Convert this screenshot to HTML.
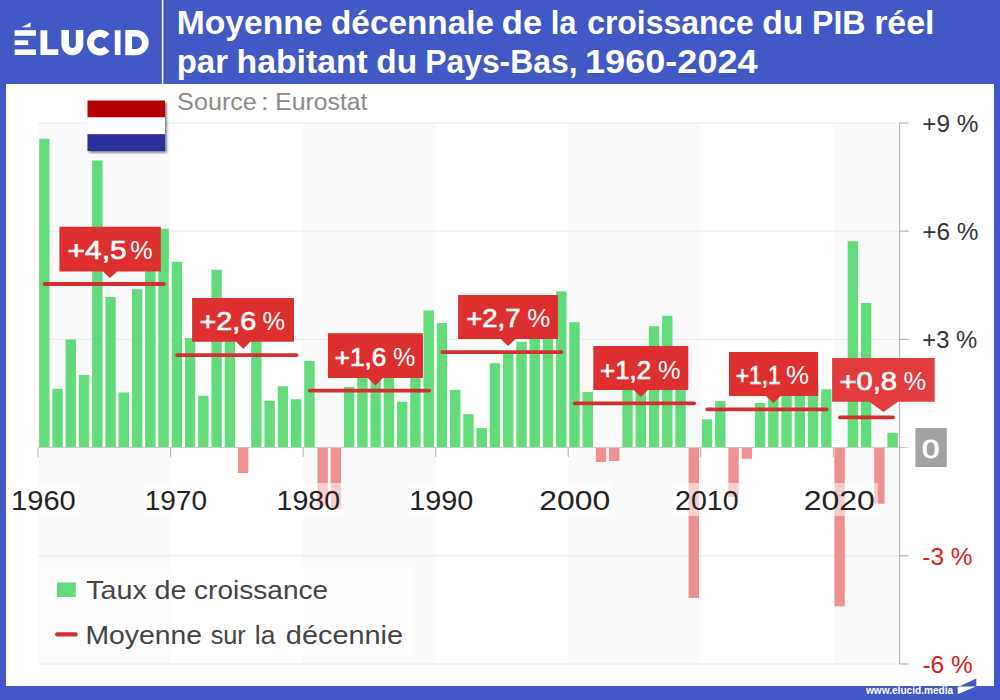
<!DOCTYPE html>
<html><head><meta charset="utf-8"><title>Chart</title>
<style>html,body{margin:0;padding:0;width:1000px;height:700px;overflow:hidden;background:#4059c5;font-family:"Liberation Sans",sans-serif}</style></head>
<body>
<svg width="1000" height="700" viewBox="0 0 1000 700" style="position:absolute;left:0;top:0;font-family:'Liberation Sans',sans-serif">
<defs><filter id="sh" x="-20%" y="-20%" width="150%" height="150%"><feDropShadow dx="1.8" dy="1.8" stdDeviation="1.3" flood-color="#000" flood-opacity="0.5"/></filter></defs>
<rect width="1000" height="700" fill="#4059c5"/>
<rect x="6" y="84" width="988" height="602" fill="#fff"/>
<rect x="161.8" y="0" width="1.6" height="84" fill="#fff" opacity="0.95"/>
<rect x="38.00" y="122.9" width="132.55" height="541.1" fill="#fafafa"/>
<rect x="303.10" y="122.9" width="132.55" height="541.1" fill="#fafafa"/>
<rect x="568.20" y="122.9" width="132.55" height="541.1" fill="#fafafa"/>
<rect x="833.30" y="122.9" width="66.27" height="541.1" fill="#fafafa"/>
<rect x="38.0" y="122.42" width="870.58" height="1" fill="#e9e9e9"/>
<rect x="38.0" y="230.63" width="870.58" height="1" fill="#e9e9e9"/>
<rect x="38.0" y="338.84" width="870.58" height="1" fill="#e9e9e9"/>
<rect x="38.0" y="555.26" width="870.58" height="1" fill="#e9e9e9"/>
<rect x="38.0" y="663.47" width="870.58" height="1" fill="#e9e9e9"/>
<rect x="40" y="567" width="374.5" height="90" fill="#fff" opacity="0.55"/>
<rect x="39.10" y="138.75" width="10.4" height="308.80" fill="#62dc7b"/>
<rect x="52.36" y="388.75" width="10.4" height="58.80" fill="#62dc7b"/>
<rect x="65.61" y="339.50" width="10.4" height="108.05" fill="#62dc7b"/>
<rect x="78.86" y="375.00" width="10.4" height="72.55" fill="#62dc7b"/>
<rect x="92.12" y="160.50" width="10.4" height="287.05" fill="#62dc7b"/>
<rect x="105.38" y="297.00" width="10.4" height="150.55" fill="#62dc7b"/>
<rect x="118.63" y="392.50" width="10.4" height="55.05" fill="#62dc7b"/>
<rect x="131.89" y="289.25" width="10.4" height="158.30" fill="#62dc7b"/>
<rect x="145.14" y="256.00" width="10.4" height="191.55" fill="#62dc7b"/>
<rect x="158.40" y="228.75" width="10.4" height="218.80" fill="#62dc7b"/>
<rect x="171.65" y="261.75" width="10.4" height="185.80" fill="#62dc7b"/>
<rect x="184.91" y="338.00" width="10.4" height="109.55" fill="#62dc7b"/>
<rect x="198.16" y="395.75" width="10.4" height="51.80" fill="#62dc7b"/>
<rect x="211.41" y="269.75" width="10.4" height="177.80" fill="#62dc7b"/>
<rect x="224.67" y="332.00" width="10.4" height="115.55" fill="#62dc7b"/>
<rect x="237.93" y="447.55" width="10.4" height="25.45" fill="#ee9090"/>
<rect x="251.18" y="339.00" width="10.4" height="108.55" fill="#62dc7b"/>
<rect x="264.44" y="400.75" width="10.4" height="46.80" fill="#62dc7b"/>
<rect x="277.69" y="386.25" width="10.4" height="61.30" fill="#62dc7b"/>
<rect x="290.95" y="399.25" width="10.4" height="48.30" fill="#62dc7b"/>
<rect x="304.20" y="361.00" width="10.4" height="86.55" fill="#62dc7b"/>
<rect x="317.46" y="447.55" width="10.4" height="58.45" fill="#ee9090"/>
<rect x="330.71" y="447.55" width="10.4" height="61.05" fill="#ee9090"/>
<rect x="343.97" y="386.80" width="10.4" height="60.75" fill="#62dc7b"/>
<rect x="357.22" y="350.00" width="10.4" height="97.55" fill="#62dc7b"/>
<rect x="370.48" y="372.00" width="10.4" height="75.55" fill="#62dc7b"/>
<rect x="383.73" y="368.00" width="10.4" height="79.55" fill="#62dc7b"/>
<rect x="396.99" y="401.80" width="10.4" height="45.75" fill="#62dc7b"/>
<rect x="410.24" y="347.00" width="10.4" height="100.55" fill="#62dc7b"/>
<rect x="423.50" y="310.50" width="10.4" height="137.05" fill="#62dc7b"/>
<rect x="436.75" y="323.00" width="10.4" height="124.55" fill="#62dc7b"/>
<rect x="450.01" y="389.80" width="10.4" height="57.75" fill="#62dc7b"/>
<rect x="463.26" y="414.25" width="10.4" height="33.30" fill="#62dc7b"/>
<rect x="476.52" y="428.10" width="10.4" height="19.45" fill="#62dc7b"/>
<rect x="489.77" y="363.25" width="10.4" height="84.30" fill="#62dc7b"/>
<rect x="503.03" y="353.50" width="10.4" height="94.05" fill="#62dc7b"/>
<rect x="516.28" y="341.75" width="10.4" height="105.80" fill="#62dc7b"/>
<rect x="529.53" y="311.00" width="10.4" height="136.55" fill="#62dc7b"/>
<rect x="542.79" y="303.00" width="10.4" height="144.55" fill="#62dc7b"/>
<rect x="556.05" y="291.30" width="10.4" height="156.25" fill="#62dc7b"/>
<rect x="569.30" y="322.20" width="10.4" height="125.35" fill="#62dc7b"/>
<rect x="582.56" y="392.00" width="10.4" height="55.55" fill="#62dc7b"/>
<rect x="595.81" y="447.55" width="10.4" height="14.45" fill="#ee9090"/>
<rect x="609.07" y="447.55" width="10.4" height="13.45" fill="#ee9090"/>
<rect x="622.32" y="388.50" width="10.4" height="59.05" fill="#62dc7b"/>
<rect x="635.58" y="382.00" width="10.4" height="65.55" fill="#62dc7b"/>
<rect x="648.83" y="326.25" width="10.4" height="121.30" fill="#62dc7b"/>
<rect x="662.09" y="315.75" width="10.4" height="131.80" fill="#62dc7b"/>
<rect x="675.34" y="382.00" width="10.4" height="65.55" fill="#62dc7b"/>
<rect x="688.60" y="447.55" width="10.4" height="150.45" fill="#ee9090"/>
<rect x="701.85" y="419.40" width="10.4" height="28.15" fill="#62dc7b"/>
<rect x="715.11" y="401.00" width="10.4" height="46.55" fill="#62dc7b"/>
<rect x="728.36" y="447.55" width="10.4" height="49.45" fill="#ee9090"/>
<rect x="741.62" y="447.55" width="10.4" height="11.20" fill="#ee9090"/>
<rect x="754.87" y="403.00" width="10.4" height="44.55" fill="#62dc7b"/>
<rect x="768.13" y="390.00" width="10.4" height="57.55" fill="#62dc7b"/>
<rect x="781.38" y="386.00" width="10.4" height="61.55" fill="#62dc7b"/>
<rect x="794.64" y="365.00" width="10.4" height="82.55" fill="#62dc7b"/>
<rect x="807.89" y="382.00" width="10.4" height="65.55" fill="#62dc7b"/>
<rect x="821.15" y="389.25" width="10.4" height="58.30" fill="#62dc7b"/>
<rect x="834.40" y="447.55" width="10.4" height="158.70" fill="#ee9090"/>
<rect x="847.66" y="241.25" width="10.4" height="206.30" fill="#62dc7b"/>
<rect x="860.91" y="303.00" width="10.4" height="144.55" fill="#62dc7b"/>
<rect x="874.17" y="447.55" width="10.4" height="56.20" fill="#ee9090"/>
<rect x="887.42" y="433.00" width="10.4" height="14.55" fill="#62dc7b"/>
<rect x="38.0" y="447.05" width="869.58" height="1" fill="#cacaca"/>
<rect x="899.08" y="123" width="1" height="541" fill="#b2b2b2"/>
<rect x="899.58" y="122.42" width="9" height="1" fill="#b0b0b0"/>
<rect x="899.58" y="230.63" width="9" height="1" fill="#b0b0b0"/>
<rect x="899.58" y="338.84" width="9" height="1" fill="#b0b0b0"/>
<rect x="899.58" y="555.26" width="9" height="1" fill="#b0b0b0"/>
<rect x="899.58" y="663.47" width="9" height="1" fill="#b0b0b0"/>
<rect x="37.50" y="447.55" width="1" height="9.5" fill="#b0b0b0"/>
<rect x="170.05" y="447.55" width="1" height="9.5" fill="#b0b0b0"/>
<rect x="302.60" y="447.55" width="1" height="9.5" fill="#b0b0b0"/>
<rect x="435.15" y="447.55" width="1" height="9.5" fill="#b0b0b0"/>
<rect x="567.70" y="447.55" width="1" height="9.5" fill="#b0b0b0"/>
<rect x="700.25" y="447.55" width="1" height="9.5" fill="#b0b0b0"/>
<rect x="832.80" y="447.55" width="1" height="9.5" fill="#b0b0b0"/>
<rect x="10.33" y="483" width="68.6" height="33" fill="#fff" opacity="0.55"/>
<rect x="143.88" y="483" width="66.6" height="33" fill="#fff" opacity="0.55"/>
<rect x="276.43" y="483" width="66.6" height="33" fill="#fff" opacity="0.55"/>
<rect x="408.28" y="483" width="68.0" height="33" fill="#fff" opacity="0.55"/>
<rect x="537.33" y="483" width="75.0" height="33" fill="#fff" opacity="0.55"/>
<rect x="673.08" y="483" width="68.6" height="33" fill="#fff" opacity="0.55"/>
<rect x="802.13" y="483" width="75.6" height="33" fill="#fff" opacity="0.55"/>
<line x1="44.63" y1="284.0" x2="163.92" y2="284.0" stroke="#d32f2f" stroke-width="3.8" stroke-linecap="round"/>
<line x1="177.18" y1="355.2" x2="296.47" y2="355.2" stroke="#d32f2f" stroke-width="3.8" stroke-linecap="round"/>
<line x1="309.73" y1="390.6" x2="429.02" y2="390.6" stroke="#d32f2f" stroke-width="3.8" stroke-linecap="round"/>
<line x1="442.28" y1="352.1" x2="561.57" y2="352.1" stroke="#d32f2f" stroke-width="3.8" stroke-linecap="round"/>
<line x1="574.83" y1="403.3" x2="694.12" y2="403.3" stroke="#d32f2f" stroke-width="3.8" stroke-linecap="round"/>
<line x1="707.38" y1="409.3" x2="826.67" y2="409.3" stroke="#d32f2f" stroke-width="3.8" stroke-linecap="round"/>
<line x1="839.93" y1="417.4" x2="892.95" y2="417.4" stroke="#d32f2f" stroke-width="3.8" stroke-linecap="round"/>
<path d="M59.4,226.8H160.8V271.6H117.1L110.0,278.1L102.9,271.6H59.4Z" fill="#de2f2f"/>
<text x="67.60" y="259.00" font-size="26.4" fill="#fff" stroke="#fff" stroke-width="0.7" textLength="59.00" lengthAdjust="spacingAndGlyphs">+4,5</text>
<text x="130.30" y="259.00" font-size="26.4" fill="#fff" textLength="22.40" lengthAdjust="spacingAndGlyphs">%</text>
<path d="M192.1,297.9H294.0V341.7H250.3L243.3,349.0L236.3,341.7H192.1Z" fill="#de2f2f"/>
<text x="199.50" y="330.40" font-size="26.4" fill="#fff" stroke="#fff" stroke-width="0.7" textLength="56.70" lengthAdjust="spacingAndGlyphs">+2,6</text>
<text x="262.60" y="330.40" font-size="26.4" fill="#fff" textLength="22.60" lengthAdjust="spacingAndGlyphs">%</text>
<path d="M327.9,333.3H422.9V377.9H382.9L375.4,385.4L367.9,377.9H327.9Z" fill="#de2f2f"/>
<text x="334.80" y="365.70" font-size="26.4" fill="#fff" stroke="#fff" stroke-width="0.7" textLength="51.40" lengthAdjust="spacingAndGlyphs">+1,6</text>
<text x="392.90" y="365.70" font-size="26.4" fill="#fff" textLength="22.30" lengthAdjust="spacingAndGlyphs">%</text>
<path d="M458.1,295.0H557.9V338.9H515.4L508.1,346.09999999999997L500.8,338.9H458.1Z" fill="#de2f2f"/>
<text x="466.30" y="327.20" font-size="26.4" fill="#fff" stroke="#fff" stroke-width="0.7" textLength="54.20" lengthAdjust="spacingAndGlyphs">+2,7</text>
<text x="527.20" y="327.20" font-size="26.4" fill="#fff" textLength="23.00" lengthAdjust="spacingAndGlyphs">%</text>
<path d="M593.3,346.1H688.3V390.0H648.0999999999999L640.8,397.1L633.5,390.0H593.3Z" fill="#de2f2f"/>
<text x="600.10" y="378.60" font-size="26.4" fill="#fff" stroke="#fff" stroke-width="0.7" textLength="51.10" lengthAdjust="spacingAndGlyphs">+1,2</text>
<text x="657.90" y="378.60" font-size="26.4" fill="#fff" textLength="22.60" lengthAdjust="spacingAndGlyphs">%</text>
<path d="M729.0,352.1H818.1V396.1H780.9L773.4,402.90000000000003L765.9,396.1H729.0Z" fill="#de2f2f"/>
<text x="735.80" y="384.30" font-size="26.4" fill="#fff" stroke="#fff" stroke-width="0.7" textLength="45.00" lengthAdjust="spacingAndGlyphs">+1,1</text>
<text x="786.00" y="384.30" font-size="26.4" fill="#fff" textLength="23.00" lengthAdjust="spacingAndGlyphs">%</text>
<path d="M832.1,357.9H934.7V401.7H897.9L883.6,411.9L869.3000000000001,401.7H832.1Z" fill="#e23c3c"/>
<text x="839.50" y="390.00" font-size="26.4" fill="#fff" stroke="#fff" stroke-width="0.7" textLength="57.40" lengthAdjust="spacingAndGlyphs">+0,8</text>
<text x="903.60" y="390.00" font-size="26.4" fill="#fff" textLength="22.70" lengthAdjust="spacingAndGlyphs">%</text>
<rect x="915.4" y="428" width="31.4" height="39" fill="#a2a2a2"/>
<text x="922.0" y="457.5" font-size="26.4" fill="#fff" stroke="#fff" stroke-width="0.9" textLength="17.4" lengthAdjust="spacingAndGlyphs">0</text>
<rect x="57" y="582.5" width="18.8" height="14.5" fill="#62dc7b"/>
<line x1="57.1" y1="634.4" x2="75.6" y2="634.4" stroke="#d32f2f" stroke-width="4.2" stroke-linecap="round"/>
<text x="176.67" y="33.9" font-size="32.5" font-weight="bold" fill="#fff" textLength="145.92" lengthAdjust="spacingAndGlyphs">Moyenne</text>
<text x="331.03" y="33.9" font-size="32.5" font-weight="bold" fill="#fff" textLength="163.01" lengthAdjust="spacingAndGlyphs">décennale</text>
<text x="501.85" y="33.9" font-size="32.5" font-weight="bold" fill="#fff" textLength="40.28" lengthAdjust="spacingAndGlyphs">de</text>
<text x="550.74" y="33.9" font-size="32.5" font-weight="bold" fill="#fff" textLength="25.85" lengthAdjust="spacingAndGlyphs">la</text>
<text x="587.24" y="33.9" font-size="32.5" font-weight="bold" fill="#fff" textLength="166.58" lengthAdjust="spacingAndGlyphs">croissance</text>
<text x="762.23" y="33.9" font-size="32.5" font-weight="bold" fill="#fff" textLength="41.15" lengthAdjust="spacingAndGlyphs">du</text>
<text x="811.99" y="33.9" font-size="32.5" font-weight="bold" fill="#fff" textLength="53.50" lengthAdjust="spacingAndGlyphs">PIB</text>
<text x="874.16" y="33.9" font-size="32.5" font-weight="bold" fill="#fff" textLength="60.40" lengthAdjust="spacingAndGlyphs">réel</text>
<text x="176.69" y="73.2" font-size="32.5" font-weight="bold" fill="#fff" textLength="51.27" lengthAdjust="spacingAndGlyphs">par</text>
<text x="236.64" y="73.2" font-size="32.5" font-weight="bold" fill="#fff" textLength="131.22" lengthAdjust="spacingAndGlyphs">habitant</text>
<text x="376.38" y="73.2" font-size="32.5" font-weight="bold" fill="#fff" textLength="40.83" lengthAdjust="spacingAndGlyphs">du</text>
<text x="425.17" y="73.2" font-size="32.5" font-weight="bold" fill="#fff" textLength="152.43" lengthAdjust="spacingAndGlyphs">Pays-Bas,</text>
<text x="585.04" y="73.2" font-size="32.5" font-weight="bold" fill="#fff" textLength="172.62" lengthAdjust="spacingAndGlyphs">1960-2024</text>
<text x="177.13" y="109.9" font-size="23.5" fill="#8a8a8a" textLength="79.75" lengthAdjust="spacingAndGlyphs">Source</text>
<text x="260.75" y="109.9" font-size="23.5" fill="#8a8a8a" textLength="8.15" lengthAdjust="spacingAndGlyphs">:</text>
<text x="275.37" y="109.9" font-size="23.5" fill="#8a8a8a" textLength="92.14" lengthAdjust="spacingAndGlyphs">Eurostat</text>
<text x="86.17" y="598.8" font-size="26.5" fill="#444" textLength="60.58" lengthAdjust="spacingAndGlyphs">Taux</text>
<text x="154.57" y="598.8" font-size="26.5" fill="#444" textLength="31.97" lengthAdjust="spacingAndGlyphs">de</text>
<text x="194.09" y="598.8" font-size="26.5" fill="#444" textLength="134.13" lengthAdjust="spacingAndGlyphs">croissance</text>
<text x="85.44" y="643.5" font-size="26.5" fill="#444" textLength="116.54" lengthAdjust="spacingAndGlyphs">Moyenne</text>
<text x="210.65" y="643.5" font-size="26.5" fill="#444" textLength="35.11" lengthAdjust="spacingAndGlyphs">sur</text>
<text x="254.80" y="643.5" font-size="26.5" fill="#444" textLength="20.67" lengthAdjust="spacingAndGlyphs">la</text>
<text x="285.89" y="643.5" font-size="26.5" fill="#444" textLength="117.18" lengthAdjust="spacingAndGlyphs">décennie</text>
<text x="11.08" y="510.4" font-size="27" fill="#222" textLength="64.64" lengthAdjust="spacingAndGlyphs">1960</text>
<text x="144.74" y="510.4" font-size="27" fill="#222" textLength="62.22" lengthAdjust="spacingAndGlyphs">1970</text>
<text x="276.64" y="510.4" font-size="27" fill="#222" textLength="63.45" lengthAdjust="spacingAndGlyphs">1980</text>
<text x="409.21" y="510.4" font-size="27" fill="#222" textLength="64.06" lengthAdjust="spacingAndGlyphs">1990</text>
<text x="539.35" y="510.4" font-size="27" fill="#222" textLength="70.83" lengthAdjust="spacingAndGlyphs">2000</text>
<text x="675.07" y="510.4" font-size="27" fill="#222" textLength="63.61" lengthAdjust="spacingAndGlyphs">2010</text>
<text x="803.69" y="510.4" font-size="27" fill="#222" textLength="71.16" lengthAdjust="spacingAndGlyphs">2020</text>
<text x="922.29" y="131.82" font-size="24.4" fill="#333" textLength="56.17" lengthAdjust="spacingAndGlyphs">+9 %</text>
<text x="922.29" y="240.03" font-size="24.4" fill="#333" textLength="56.17" lengthAdjust="spacingAndGlyphs">+6 %</text>
<text x="922.34" y="348.24" font-size="24.4" fill="#333" textLength="54.94" lengthAdjust="spacingAndGlyphs">+3 %</text>
<text x="922.35" y="564.66" font-size="24.4" fill="#d32020" textLength="50.09" lengthAdjust="spacingAndGlyphs">-3 %</text>
<text x="922.41" y="672.87" font-size="24.4" fill="#d32020" textLength="50.19" lengthAdjust="spacingAndGlyphs">-6 %</text>
<text x="866.01" y="693.9" font-size="10.5" font-weight="bold" fill="#fff" textLength="87.13" lengthAdjust="spacingAndGlyphs">www.elucid.media</text>
<g filter="url(#sh)"><rect x="87.5" y="100.5" width="77.5" height="17" fill="#b50000"/><rect x="87.5" y="117.4" width="77.5" height="17" fill="#fff"/><rect x="87.5" y="134.2" width="77.5" height="16.8" fill="#2f2f9b"/></g>
<g fill="#fff">
<rect x="14.6" y="30.2" width="21.3" height="5.6"/><rect x="14.6" y="40.3" width="13.6" height="4.8"/><rect x="14.6" y="49.4" width="21.3" height="5.6"/>
<polygon points="21.6,27.2 30.6,22.6 30.6,27.2"/>
<polygon points="40.5,30.2 47.3,30.2 47.3,49.3 58.3,49.3 58.3,55 40.5,55"/>
<rect x="113.8" y="30.2" width="6.7" height="24.8"/>
</g>
<g fill="#fff" fill-rule="evenodd">
<path d="M61.4,30V44.3A10.95,10.95 0 0 0 83.3,44.3V30H75.8V44.6A3.4,3.4 0 0 1 69,44.6V30Z"/>
<path d="M87,42.6A12.9,12.9 0 1 0 112.8,42.6A12.9,12.9 0 1 0 87,42.6ZM94,42.6A5.9,5.9 0 1 1 105.8,42.6A5.9,5.9 0 1 1 94,42.6Z"/>
<path d="M125.3,30H136.1A12.6,12.6 0 0 1 136.1,55.2H125.3ZM132,36.5H136A6,6.25 0 0 1 136,49H132Z"/>
</g>
<polygon points="99.9,42.6 114.8,29.2 114.8,56.0" fill="#4059c5"/>
<polygon points="976.3,678.5 976.3,686.2 959.5,686.2" fill="#4059c5"/>
<polygon points="957.7,686.5 976,686.5 957.7,694.2" fill="#fff"/>
</svg>
</body></html>
